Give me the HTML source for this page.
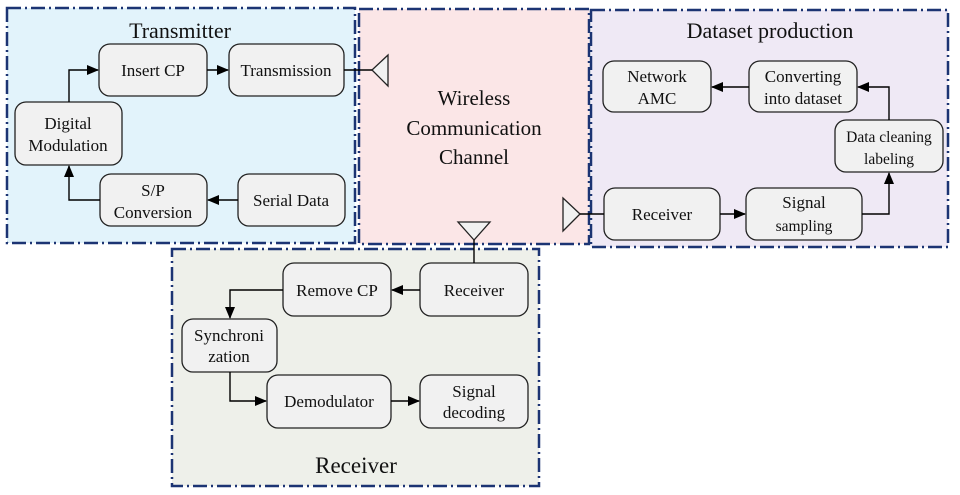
<!DOCTYPE html>
<html><head><style>body{margin:0;background:#fff}svg{display:block}svg text{font-family:"Liberation Serif","Noto Serif CJK SC","DejaVu Serif",serif;fill:#111}</style></head><body>
<svg width="960" height="495" viewBox="0 0 960 495" xmlns="http://www.w3.org/2000/svg">
<defs><marker id="a" markerWidth="12" markerHeight="10" refX="11" refY="5" orient="auto" markerUnits="userSpaceOnUse"><path d="M0,0 L12,5 L0,10 z" fill="#000"/></marker></defs>
<g stroke="#1c3473" stroke-width="2.5" stroke-dasharray="14,4,2,4">
<rect x="7" y="8" width="348" height="235" fill="#e2f3fb"/>
<rect x="359" y="9" width="230" height="235" fill="#fbe6e7"/>
<rect x="591" y="10" width="357" height="237" fill="#efe9f5"/>
<rect x="172" y="249" width="367" height="237" fill="#eef0ea"/>
</g>
<g fill="#f1f1f1" stroke="#222" stroke-width="1.3">
<rect x="99" y="44" width="108" height="52" rx="11"/>
<rect x="229" y="44" width="115" height="52" rx="11"/>
<rect x="15" y="102" width="107" height="63" rx="11"/>
<rect x="100" y="174" width="107" height="52" rx="11"/>
<rect x="238" y="174" width="107" height="52" rx="11"/>
<rect x="603" y="61" width="108" height="51" rx="11"/>
<rect x="749" y="61" width="108" height="51" rx="11"/>
<rect x="835" y="120" width="108" height="52" rx="11"/>
<rect x="604" y="188" width="116" height="52" rx="11"/>
<rect x="746" y="188" width="116" height="52" rx="11"/>
<rect x="283" y="263" width="108" height="53" rx="11"/>
<rect x="420" y="263" width="108" height="53" rx="11"/>
<rect x="182" y="319" width="95" height="53" rx="11"/>
<rect x="267" y="375" width="124" height="53" rx="11"/>
<rect x="420" y="375" width="108" height="53" rx="11"/>
<path d="M372,70 L388,55 L388,86 z"/>
<path d="M580,214 L563,198 L563,231 z"/>
<path d="M474,240 L458,222 L490,222 z"/>
</g>
<g stroke="#000" stroke-width="1.4" fill="none">
<path d="M344,70 H372"/><path d="M580,214 H604"/><path d="M474,240 V263"/>
<path d="M69,102 V70 H98" marker-end="url(#a)"/>
<path d="M207,70 H228" marker-end="url(#a)"/>
<path d="M100,200 H69 V166" marker-end="url(#a)"/>
<path d="M238,200 H208" marker-end="url(#a)"/>
<path d="M749,87 H712" marker-end="url(#a)"/>
<path d="M889,120 V87 H858" marker-end="url(#a)"/>
<path d="M720,214 H745" marker-end="url(#a)"/>
<path d="M862,214 H889 V173" marker-end="url(#a)"/>
<path d="M420,290 H392" marker-end="url(#a)"/>
<path d="M283,290 H230 V318" marker-end="url(#a)"/>
<path d="M230,372 V401 H266" marker-end="url(#a)"/>
<path d="M391,401 H419" marker-end="url(#a)"/>
</g>
<g text-anchor="middle" font-size="17">
<text x="180" y="38" font-size="22">Transmitter</text>
<text x="770" y="38" font-size="22">Dataset production</text>
<text x="356" y="473" font-size="23">Receiver</text>
<text x="474" y="105" font-size="21">Wireless</text>
<text x="474" y="135" font-size="21">Communication</text>
<text x="474" y="164" font-size="21">Channel</text>
<text x="153" y="76">Insert CP</text>
<text x="286" y="76">Transmission</text>
<text x="68" y="129">Digital</text>
<text x="68" y="151">Modulation</text>
<text x="153" y="196">S/P</text>
<text x="153" y="218">Conversion</text>
<text x="291" y="206">Serial Data</text>
<text x="657" y="82">Network</text>
<text x="657" y="104">AMC</text>
<text x="803" y="82">Converting</text>
<text x="803" y="104">into dataset</text>
<text x="889" y="142" font-size="15.5">Data cleaning</text>
<text x="889" y="164" font-size="15.5">labeling</text>
<text x="662" y="220">Receiver</text>
<text x="804" y="208">Signal</text>
<text x="804" y="231" font-size="15.5">sampling</text>
<text x="337" y="296">Remove CP</text>
<text x="474" y="296">Receiver</text>
<text x="229" y="341">Synchroni</text>
<text x="229" y="362">zation</text>
<text x="329" y="407">Demodulator</text>
<text x="474" y="397">Signal</text>
<text x="474" y="418">decoding</text>
</g>
</svg>
</body></html>
